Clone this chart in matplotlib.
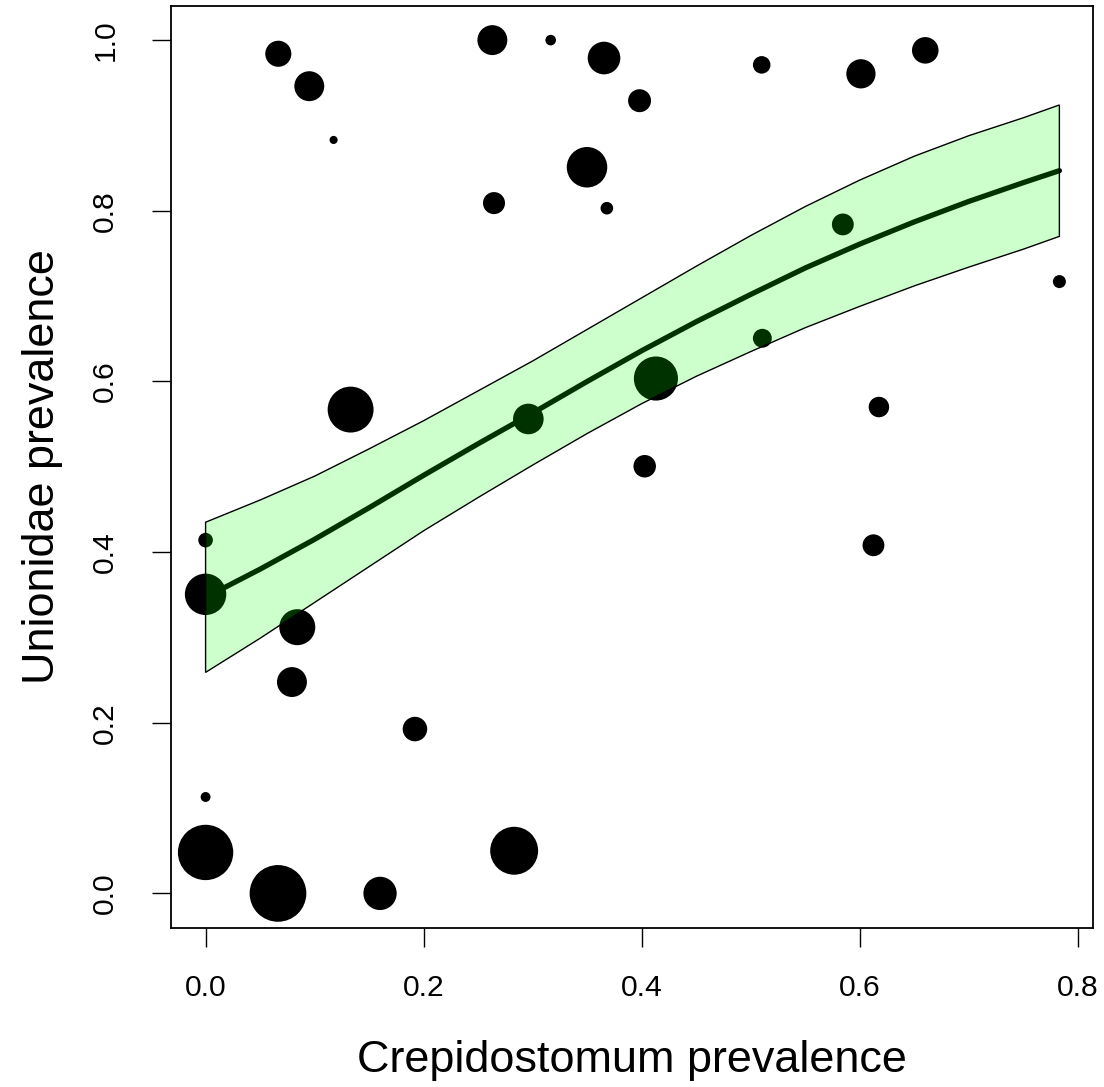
"""Unionidae vs Crepidostomum prevalence, with fitted curve and confidence band."""

import matplotlib

matplotlib.use("Agg")
import matplotlib.pyplot as plt
import numpy as np

# observed sites: Crepidostomum prevalence, Unionidae prevalence, symbol size (cex)
crep_prev = [
    0.0667, 0.0951, 0.1174, 0.263, 0.3165, 0.3654, 0.3498, 0.2645,
    0.368, 0.398, 0.510, 0.601, 0.660, 0.5844, 0.783, 0.5106,
    0.413, 0.6175, 0.4027, 0.6125, 0.133, 0.296, 0.0, 0.0,
    0.0841, 0.0792, 0.192, 0.0, 0.0, 0.0664, 0.160, 0.283,
]
union_prev = [
    0.984, 0.946, 0.883, 1.000, 1.000, 0.979, 0.851, 0.809,
    0.803, 0.929, 0.971, 0.9605, 0.988, 0.784, 0.717, 0.6506,
    0.6034, 0.570, 0.5006, 0.408, 0.567, 0.556, 0.414, 0.3505,
    0.312, 0.2477, 0.1926, 0.113, 0.048, 0.0, 0.0, 0.050,
]
site_cex = [
    1.16, 1.33, 0.36, 1.33, 0.47, 1.45, 1.80, 0.98,
    0.56, 1.02, 0.78, 1.30, 1.18, 0.97, 0.58, 0.84,
    1.96, 0.91, 1.00, 0.97, 2.04, 1.36, 0.65, 1.84,
    1.60, 1.33, 1.09, 0.44, 2.46, 2.52, 1.48, 2.13,
]

fit_x = [0.0, 0.05, 0.1, 0.15, 0.2, 0.25, 0.3, 0.35, 0.4,
         0.45, 0.5, 0.55, 0.6, 0.65, 0.7, 0.75, 0.783]
fit_mid = [0.347, 0.380, 0.415, 0.452, 0.490, 0.527, 0.563, 0.600, 0.636,
           0.670, 0.702, 0.733, 0.761, 0.787, 0.811, 0.833, 0.847]
fit_hi = [0.435, 0.461, 0.489, 0.521, 0.554, 0.589, 0.624, 0.661, 0.698,
          0.735, 0.771, 0.805, 0.836, 0.864, 0.888, 0.909, 0.924]
fit_lo = [0.259, 0.299, 0.341, 0.383, 0.425, 0.464, 0.502, 0.539, 0.574,
          0.606, 0.635, 0.663, 0.688, 0.712, 0.734, 0.755, 0.770]

x_ticks = [0.0, 0.2, 0.4, 0.6, 0.8]
y_ticks = [0.0, 0.2, 0.4, 0.6, 0.8, 1.0]


def main():
    """Plot figure."""
    plt.rcParams["font.family"] = ["Liberation Sans", "DejaVu Sans"]
    dpi = 100
    fig = plt.figure(figsize=(11.04, 10.87), dpi=dpi)
    ax = fig.add_axes([0.1553, 0.1467, 0.8351, 0.8478])

    # R-style symbol radius: 0.375 * cex * 30 px
    radius_pt = 0.375 * np.asarray(site_cex) * 30 * 72 / dpi
    ax.scatter(crep_prev, union_prev, s=(2 * radius_pt) ** 2,
               color="black", edgecolors="none", zorder=2)

    # fitted line drawn below the translucent band
    ax.plot(fit_x, fit_mid, color="black", lw=3.8,
            solid_capstyle="round", solid_joinstyle="round", zorder=3)
    poly_x = list(fit_x) + list(fit_x)[::-1]
    poly_y = list(fit_hi) + list(fit_lo)[::-1]
    ax.fill(poly_x, poly_y, facecolor=(0, 1, 0, 0.2),
            edgecolor="black", lw=1.0, zorder=4)

    ax.set_xlim(-0.0313, 0.8142)
    ax.set_ylim(-0.04, 1.04)
    ax.set_xticks(x_ticks)
    ax.set_yticks(y_ticks)
    ax.set_xticklabels([f"{v:.1f}" for v in x_ticks])
    ax.set_yticklabels([f"{v:.1f}" for v in y_ticks], rotation=90, va="center")
    ax.tick_params(axis="both", direction="out", length=13.5, width=1.0,
                   labelsize=21.6, color="black")
    ax.tick_params(axis="x", pad=20)
    ax.tick_params(axis="y", pad=24)

    for spine in ax.spines.values():
        spine.set_linewidth(1.3)

    ax.set_xlabel("Crepidostomum prevalence", fontsize=32.4)
    ax.set_ylabel("Unionidae prevalence", fontsize=32.4)
    ax.xaxis.set_label_coords(0.5, -0.1445)
    ax.xaxis.label.set_va("center")
    ax.yaxis.set_label_coords(-0.1395, 0.5)
    ax.yaxis.label.set_va("center")

    fig.savefig("out.png", dpi=dpi)


if __name__ == "__main__":
    main()
